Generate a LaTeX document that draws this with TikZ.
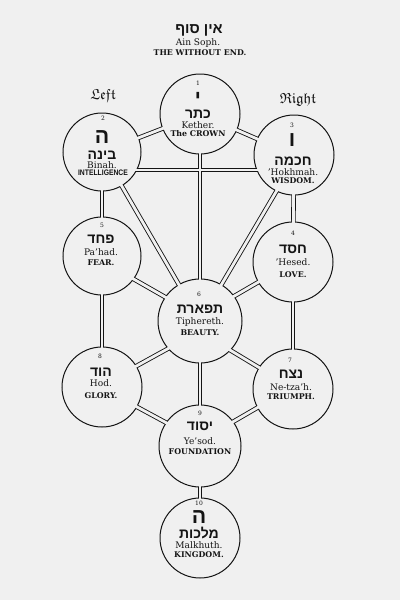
\documentclass[tikz,border=0pt]{standalone}
\usepackage{amssymb}
\usepackage{fontspec}
\setmainfont{DejaVu Serif}
\newfontfamily\hebf[Script=Hebrew]{Liberation Sans}
\newfontfamily\sansf{Liberation Sans}
\TeXXeTstate=1
\definecolor{bg}{gray}{0.94}
\definecolor{ink}{gray}{0.08}
\newcommand{\HEB}[1]{{\hebf\bfseries\beginR #1\endR}}
\begin{document}
\begin{tikzpicture}[x=0.75pt,y=-0.75pt,
  every node/.style={inner sep=0pt,text=ink},
  chanout/.style={draw=ink,line width=3.4pt},
  chanin/.style={draw=bg,line width=2.1pt},
  ring/.style={circle,draw=ink,line width=0.75pt,fill=bg,inner sep=0pt,minimum size=#1},
  num/.style={font=\fontsize{4.5}{5}\selectfont},
  heb/.style={font=\fontsize{10.5}{10.5}\selectfont},
  bigheb/.style={font=\fontsize{#1}{#1}\selectfont},
  tr/.style={font=\fontsize{6.8}{7}\selectfont},
  caps/.style={font=\bfseries\fontsize{5.9}{6}\selectfont},
  side/.style={font=\fontsize{11}{11}\selectfont}]
\fill[bg] (0,0) rectangle (400,600);
% centres and channel ends
\coordinate (p1) at (200,114);
\coordinate (p2) at (102,152);
\coordinate (p3) at (294,155);
\coordinate (p4) at (293,262);
\coordinate (p5) at (102,256);
\coordinate (p6) at (200,321);
\coordinate (p7) at (293,389);
\coordinate (p8) at (102,387);
\coordinate (p9) at (200,446);
\coordinate (p10) at (200,538);
\coordinate (h2) at (102,170);
\coordinate (h3) at (294,170);
\coordinate (q3) at (296,158);
\coordinate (k5) at (102,261);
\coordinate (k6) at (200,317);
\coordinate (m4) at (293,262);
\coordinate (m6) at (200,316);
\coordinate (n8) at (102,385);
\coordinate (n6) at (200,331);
\coordinate (o7) at (293,388);
\coordinate (o6) at (200,332);
\coordinate (s8) at (102,388);
\coordinate (s9) at (200,441);
\coordinate (t7) at (293,387);
\coordinate (t9) at (200,441);
\def\chanlist{p1/p2,p1/p3,p1/p6,h2/h3,p2/p5,p3/p4,p2/p6,q3/p6,k5/k6,m4/m6,p5/p8,p4/p7,n8/n6,o7/o6,s8/s9,t7/t9,p6/p9,p9/p10}
\foreach \a/\b in \chanlist {\draw[chanout] (\a) -- (\b);}
% circles
\node[ring=60pt] (c1) at (p1) {};
\node[ring=58.5pt] (c2) at (p2) {};
\node[ring=60pt] (c3) at (p3) {};
\node[ring=60pt] (c4) at (p4) {};
\node[ring=58.5pt] (c5) at (p5) {};
\node[ring=63pt] (c6) at (p6) {};
\node[ring=60pt] (c7) at (p7) {};
\node[ring=60pt] (c8) at (p8) {};
\node[ring=61.5pt] (c9) at (p9) {};
\node[ring=60pt] (c10) at (p10) {};
\foreach \a/\b in \chanlist {\draw[chanin] (\a) -- (\b);}
% top
\node[font=\fontsize{11}{11}\selectfont] (ainheb) at (199,30) {\HEB{אין סוף}};
\node[tr] (ain) at (198,43) {Ain Soph.};
\node[caps] (without) at (200,53) {THE WITHOUT END.};
\node[side] (left) at (103,96) {$\mathfrak{Left}$};
\node[side] (right) at (298,100) {$\mathfrak{Right}$};
% 1
\node[num] (n1) at (198,83) {1};
\node[bigheb=15] (l1) at (198,98) {\HEB{י}};
\node[heb] (h1) at (198,114) {\HEB{כתר}};
\node[tr] (t1) at (198,125) {Kether.};
\node[caps] (e1) at (198,134) {The CROWN};
% 2
\node[num] (n2) at (103,118) {2};
\node[bigheb=16] (l2) at (102,137) {\HEB{ה}};
\node[heb] (h2t) at (102,155) {\HEB{בינה}};
\node[tr] (t2) at (102,165) {Binah.};
\node[font=\sansf\bfseries\fontsize{6}{6}\selectfont] (e2) at (103,173) {\scalebox{0.85}[1]{INTELLIGENCE}};
% 3
\node[num] (n3) at (292,125) {3};
\node[bigheb=16] (l3) at (292,140) {\HEB{ו}};
\node[heb] (h3t) at (293,161) {\HEB{חכמה}};
\node[tr] (t3) at (293,172) {'Hokhmah.};
\node[caps] (e3) at (293,181) {WISDOM.};
% 5
\node[num] (n5) at (102,225) {5};
\node[heb] (h5) at (101,239) {\HEB{פחד}};
\node[tr] (t5) at (101,252) {Pa'had.};
\node[caps] (e5) at (101,263) {FEAR.};
% 4
\node[num] (n4) at (293,233) {4};
\node[heb] (h4) at (293,249) {\HEB{חסד}};
\node[tr] (t4) at (293,262) {'Hesed.};
\node[caps] (e4) at (293,275) {LOVE.};
% 6
\node[num] (n6t) at (199,294) {6};
\node[heb] (h6) at (200,309) {\HEB{תפארת}};
\node[tr] (t6) at (200,322) {Tiphereth.};
\node[caps] (e6) at (200,333) {BEAUTY.};
% 8
\node[num] (n8t) at (100,356) {8};
\node[heb] (h8) at (101,372) {\HEB{הוד}};
\node[tr] (t8) at (101,383) {Hod.};
\node[caps] (e8) at (101,396) {GLORY.};
% 7
\node[num] (n7) at (290,360) {7};
\node[heb] (h7) at (291,374) {\HEB{נצח}};
\node[tr] (t7t) at (291,387) {Ne-tza'h.};
\node[caps] (e7) at (291,397) {TRIUMPH.};
% 9
\node[num] (n9) at (200,413) {9};
\node[heb] (h9) at (200,426) {\HEB{יסוד}};
\node[tr] (t9t) at (200,441) {Ye'sod.};
\node[caps] (e9) at (200,452) {FOUNDATION};
% 10
\node[num] (n10) at (199,503) {10};
\node[bigheb=16] (l10) at (199,517) {\HEB{ה}};
\node[heb] (h10) at (199,533) {\HEB{מלכות}};
\node[tr] (t10) at (199,545) {Malkhuth.};
\node[caps] (e10) at (199,555) {KINGDOM.};
\end{tikzpicture}
\end{document}
